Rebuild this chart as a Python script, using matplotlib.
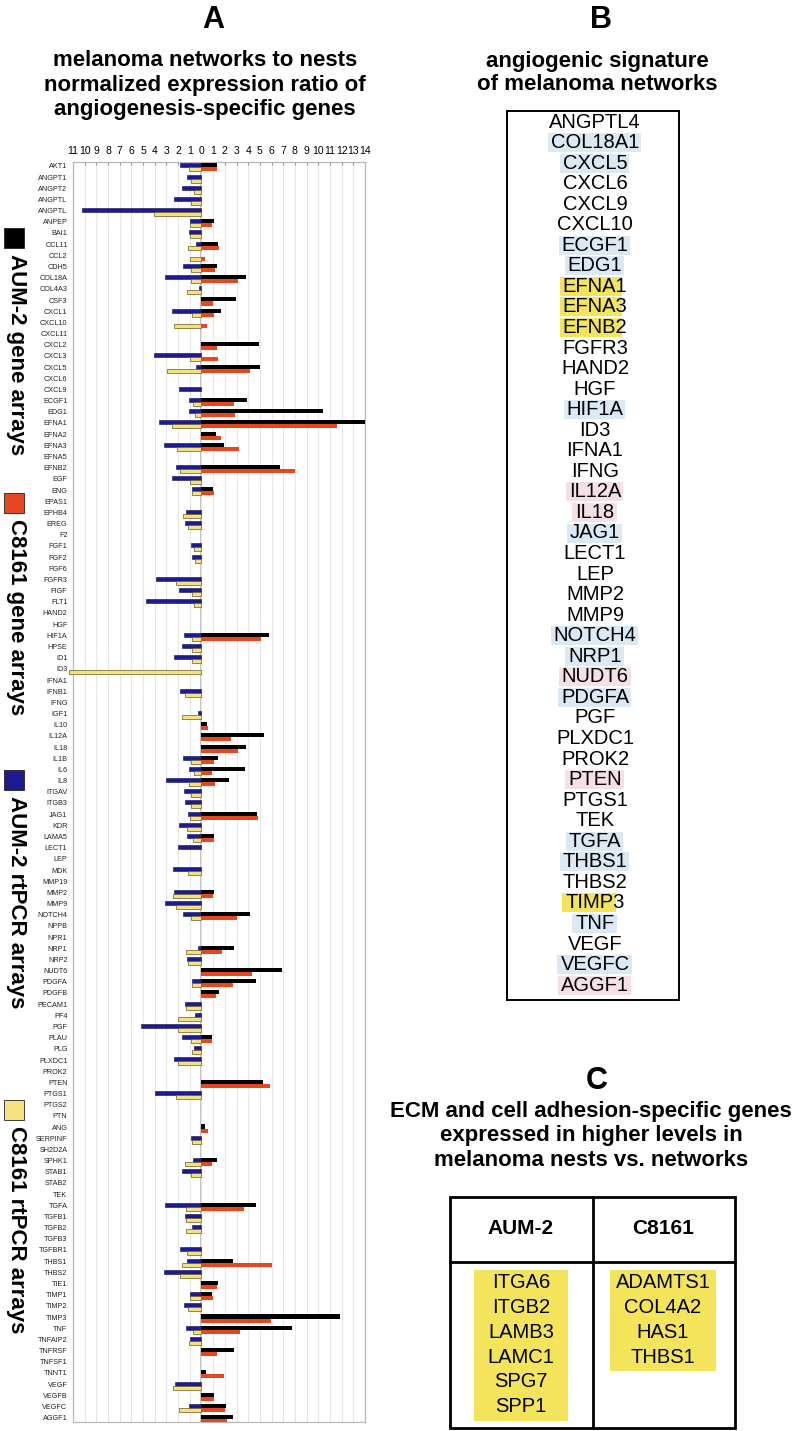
import matplotlib
matplotlib.use("Agg")
import numpy as np
from matplotlib import pyplot as plt
from matplotlib.patches import Rectangle

plt.rcParams['font.family'] = ['Liberation Sans', 'DejaVu Sans']
NARROW = ['Liberation Sans Narrow', 'Liberation Sans', 'DejaVu Sans']

genes = ['AKT1', 'ANGPT1', 'ANGPT2', 'ANGPTL', 'ANGPTL', 'ANPEP', 'BAI1', 'CCL11', 'CCL2', 'CDH5',
         'COL18A', 'COL4A3', 'CSF3', 'CXCL1', 'CXCL10', 'CXCL11', 'CXCL2', 'CXCL3', 'CXCL5', 'CXCL6',
         'CXCL9', 'ECGF1', 'EDG1', 'EFNA1', 'EFNA2', 'EFNA3', 'EFNA5', 'EFNB2', 'EGF', 'ENG',
         'EPAS1', 'EPHB4', 'EREG', 'F2', 'FGF1', 'FGF2', 'FGF6', 'FGFR3', 'FIGF', 'FLT1',
         'HAND2', 'HGF', 'HIF1A', 'HPSE', 'ID1', 'ID3', 'IFNA1', 'IFNB1', 'IFNG', 'IGF1',
         'IL10', 'IL12A', 'IL18', 'IL1B', 'IL6', 'IL8', 'ITGAV', 'ITGB3', 'JAG1', 'KDR',
         'LAMA5', 'LECT1', 'LEP', 'MDK', 'MMP19', 'MMP2', 'MMP9', 'NOTCH4', 'NPPB', 'NPR1',
         'NRP1', 'NRP2', 'NUDT6', 'PDGFA', 'PDGFB', 'PECAM1', 'PF4', 'PGF', 'PLAU', 'PLG',
         'PLXDC1', 'PROK2', 'PTEN', 'PTGS1', 'PTGS2', 'PTN', 'ANG', 'SERPINF', 'SH2D2A', 'SPHK1',
         'STAB1', 'STAB2', 'TEK', 'TGFA', 'TGFB1', 'TGFB2', 'TGFB3', 'TGFBR1', 'THBS1', 'THBS2',
         'TIE1', 'TIMP1', 'TIMP2', 'TIMP3', 'TNF', 'TNFAIP2', 'TNFRSF', 'TNFSF1', 'TNNT1', 'VEGF',
         'VEGFB', 'VEGFC', 'AGGF1']

# AUM-2 gene arrays (black)
aum2_gene = [1.37, 0, 0, 0, 0, 1.06, 0, 1.43, 0, 1.31,
             3.8, 0, 2.97, 1.69, 0, 0, 4.94, 0, 5.0, 0,
             0, 3.89, 10.4, 14.0, 1.23, 1.94, 0, 6.71, 0, 0.97,
             0, 0, 0, 0, 0, 0, 0, 0, 0, 0,
             0, 0, 5.77, 0, 0, 0, 0, 0, 0, 0,
             0.51, 5.34, 3.83, 1.43, 3.71, 2.34, 0, 0, 4.74, 0,
             1.06, 0, 0, 0, 0, 1.06, 0, 4.14, 0, 0,
             2.77, 0, 6.86, 4.71, 1.51, 0, 0, 0, 0.94, 0,
             0, 0, 5.26, 0, 0, 0, 0.34, 0, 0, 1.34,
             0, 0, 0, 4.66, 0, 0, 0, 0, 2.66, 0,
             1.4, 0.94, 0, 11.86, 7.77, 0, 2.77, 0, 0.37, 0,
             1.06, 2.06, 2.69]

# C8161 gene arrays (red)
c8161_gene = [1.29, 0, 0, 0, 0, 0.94, 0, 1.51, 0.26, 1.14,
              3.14, 0, 0.97, 1.06, 0.46, 0, 1.34, 1.4, 4.14, 0,
              0, 2.8, 2.91, 11.63, 1.71, 3.17, 0, 8.03, 0, 1.06,
              0, 0, 0, 0, 0, 0, 0, 0, 0, 0,
              0, 0, 5.11, 0, 0, 0, 0, 0, 0, 0,
              0.6, 2.51, 3.11, 1.09, 0.91, 1.14, 0, 0, 4.8, 0,
              1.11, 0, 0, 0, 0, 1.0, 0, 3.03, 0, 0,
              1.77, 0, 4.34, 2.71, 1.23, 0, 0, 0, 0.94, 0,
              0, 0, 5.86, 0, 0, 0, 0.54, 0, 0, 0.89,
              0, 0, 0, 3.63, 0, 0, 0, 0, 6.03, 0,
              1.37, 0.97, 0, 5.97, 3.31, 0, 1.37, 0, 1.97, 0,
              1.09, 2.0, 2.17]

# AUM-2 rtPCR arrays (blue)
aum2_rtpcr = [-1.8, -1.23, -1.66, -2.37, -10.2, -1.0, -1.09, -0.43, 0, -1.57,
              -3.11, -0.23, 0, -2.51, 0, 0, 0, -4.09, -0.46, 0,
              -1.89, -1.09, -1.09, -3.63, 0, -3.23, 0, -2.14, -2.51, -0.77,
              0, -1.29, -1.43, 0, -0.86, -0.8, 0, -3.91, -1.89, -4.77,
              0, 0, -1.51, -1.69, -2.37, 0, 0, -1.83, 0, -0.26,
              0, 0, 0, -1.57, -1.11, -3.06, -1.51, -1.37, -1.14, -1.94,
              -1.23, -2.0, 0, -2.46, 0, -2.34, -3.14, -1.6, 0, 0,
              -0.26, -1.23, 0, -0.77, 0, -1.37, -0.57, -5.14, -1.66, -0.66,
              -2.31, 0, 0, -4.0, 0, 0, 0, -0.86, 0, -0.69,
              -1.69, 0, 0, -3.11, -1.37, -0.77, 0, -1.83, -1.2, -3.23,
              0, -0.97, -1.51, 0, -1.34, -1.0, 0, 0, 0, -2.26,
              0, -1.11, 0]

# C8161 rtPCR arrays (yellow)
c8161_rtpcr = [-1.06, -0.91, -0.6, -0.86, -4.03, -1.0, -1.0, -1.17, -1.0, -0.86,
               -0.86, -1.23, 0, -0.83, -2.37, 0, 0, -1.0, -2.91, 0,
               0, -0.71, -0.57, -2.54, 0, -2.06, 0, -1.86, -1.0, -0.8,
               0, -1.54, -1.14, 0, -0.63, -0.57, 0, -2.2, -0.77, -0.6,
               0, 0, -0.83, -0.77, -0.83, -11.3, 0, -1.37, 0, -1.71,
               0, 0, 0, -0.89, -0.6, -1.09, -0.86, -0.86, -1.0, -1.23,
               -0.71, 0, 0, -1.17, 0, -2.43, -2.14, -0.91, 0, 0,
               -1.29, -1.14, 0, -0.83, 0, -1.29, -1.97, -2.03, -0.89, -0.77,
               -2.03, 0, 0, -2.14, 0, 0, 0, -0.77, 0, -1.4,
               -0.89, 0, 0, -1.29, -1.34, -1.29, 0, -1.26, -1.63, -1.8,
               0, -1.0, -1.17, 0, -0.71, -1.11, 0, 0, 0, -2.46,
               0, -1.89, 0]

series_names = ['AUM-2 gene arrays', 'C8161 gene arrays', 'AUM-2 rtPCR arrays', 'C8161 rtPCR arrays']
x_ticks = list(range(-11, 15))

signature_genes = ['ANGPTL4', 'COL18A1', 'CXCL5', 'CXCL6', 'CXCL9', 'CXCL10', 'ECGF1', 'EDG1',
                   'EFNA1', 'EFNA3', 'EFNB2', 'FGFR3', 'HAND2', 'HGF', 'HIF1A', 'ID3', 'IFNA1',
                   'IFNG', 'IL12A', 'IL18', 'JAG1', 'LECT1', 'LEP', 'MMP2', 'MMP9', 'NOTCH4',
                   'NRP1', 'NUDT6', 'PDGFA', 'PGF', 'PLXDC1', 'PROK2', 'PTEN', 'PTGS1', 'TEK',
                   'TGFA', 'THBS1', 'THBS2', 'TIMP3', 'TNF', 'VEGF', 'VEGFC', 'AGGF1']
sig_blue = ['COL18A1', 'CXCL5', 'ECGF1', 'EDG1', 'HIF1A', 'JAG1', 'NOTCH4', 'NRP1', 'PDGFA',
            'TGFA', 'THBS1', 'TNF', 'VEGFC']
sig_pink = ['IL12A', 'IL18', 'NUDT6', 'PTEN', 'AGGF1']
sig_yellow = ['EFNA1', 'EFNA3', 'EFNB2', 'TIMP3']

ecm_aum2 = ['ITGA6', 'ITGB2', 'LAMB3', 'LAMC1', 'SPG7', 'SPP1']
ecm_c8161 = ['ADAMTS1', 'COL4A2', 'HAS1', 'THBS1']

BLACK = '#000000'
RED = '#e8461e'
BLUE = '#1c1c90'
YELLOW = '#f3e27d'
HL_BLUE = '#dbe9f4'
HL_PINK = '#f6e0e8'
HL_YELLOW = '#f4e45c'
ORANGE = '#e0603a'

fig = plt.figure(figsize=(7.98, 14.31), dpi=100)
ov = fig.add_axes([0, 0, 1, 1], zorder=0)
ov.set_xlim(0, 798)
ov.set_ylim(1431, 0)
ov.axis('off')

# ---- panel A chart
ax = fig.add_axes([73 / 798, 1 - 1422 / 1431, 292 / 798, 1260 / 1431], zorder=2)
y = np.arange(len(genes))
top, bot, h = y + 0.03, y + 0.39, 0.36

def bars(pos, vals, **kw):
    vals = np.array(vals)
    m = vals != 0
    return ax.barh(pos[m], vals[m], height=h, zorder=3, **kw)

bars(top, aum2_gene, color=BLACK, lw=0)
bars(top, aum2_rtpcr, color=BLUE, edgecolor='#0c0c55', lw=0.4)
bars(bot, c8161_gene, color=RED, lw=0)
yb = bars(bot, c8161_rtpcr, color=YELLOW, edgecolor='#6a5a20', lw=0.5)
for p in yb:
    p.set_clip_on(False)

ax.set_xlim(-11, 14)
ax.set_ylim(len(genes) - 0.53, -0.27)
ax.set_xticks(x_ticks)
ax.set_xticklabels([str(abs(v)) for v in x_ticks], family=NARROW, fontsize=7.5)
for lab, v in zip(ax.get_xticklabels(), x_ticks):
    lab.set_color(ORANGE if v < 0 else 'black')
ax.xaxis.tick_top()
ax.tick_params(axis='x', direction='in', length=2.5, color='#9a9a9a', pad=4)
ax.set_yticks(y + 0.08)
ax.set_yticklabels(genes, family=NARROW, fontsize=5.2, color='#222222')
ax.tick_params(axis='y', length=0, pad=4)
ax.grid(axis='x', color='#e6e6e6', lw=0.8, zorder=0)
ax.axvline(0, color='#b5b5b5', lw=1.2, zorder=1)
for s in ax.spines.values():
    s.set_color('#b8b8b8')
    s.set_linewidth(0.9)

# ---- legend on the left (rotated)
leg_colors = [BLACK, RED, BLUE, YELLOW]
leg_sq_top = [228, 493, 770, 1100]
for name, col, t in zip(series_names, leg_colors, leg_sq_top):
    ov.add_patch(Rectangle((4, t), 20, 20, fc=col, ec='#222222', lw=0.6))
    ov.text(16, t + 26, name, rotation=-90, ha='center', va='top',
            fontsize=16, fontweight='bold')

# ---- titles
ov.text(213, 20, 'A', ha='center', va='center', fontsize=22, fontweight='bold')
for yy, line in zip([61, 85, 109], ['melanoma networks to nests',
                                    'normalized expression ratio of',
                                    'angiogenesis-specific genes']):
    ov.text(205, yy, line, ha='center', va='center', fontsize=16, fontweight='bold')

ov.text(601, 20, 'B', ha='center', va='center', fontsize=22, fontweight='bold')
for yy, line in zip([61, 85], ['angiogenic signature', 'of melanoma networks']):
    ov.text(597, yy, line, ha='center', va='center', fontsize=16, fontweight='bold')

ov.text(597, 1081, 'C', ha='center', va='center', fontsize=22, fontweight='bold')
for yy, line in zip([1112, 1136, 1160], ['ECM and cell adhesion-specific genes',
                                         'expressed in higher levels in',
                                         'melanoma nests vs. networks']):
    ov.text(591, yy, line, ha='center', va='center', fontsize=16, fontweight='bold')

# ---- panel B list
ov.add_patch(Rectangle((507, 111), 172, 889, fc='none', ec='black', lw=1.4))
sig_texts = []
for k, g in enumerate(signature_genes):
    t = ov.text(595, 122 + k * 20.55, g, ha='center', va='center', fontsize=14.5, zorder=3)
    sig_texts.append((g, t))

# ---- panel C table
ov.add_patch(Rectangle((450, 1197), 285, 231, fc='none', ec='black', lw=2))
ov.plot([593, 593], [1197, 1428], color='black', lw=2)
ov.plot([450, 735], [1262, 1262], color='black', lw=2)
ov.text(521, 1228, 'AUM-2', ha='center', va='center', fontsize=15, fontweight='bold')
ov.text(663, 1228, 'C8161', ha='center', va='center', fontsize=15, fontweight='bold')
for cx, x0, w, items in [(521, 474, 94, ecm_aum2), (663, 610, 106, ecm_c8161)]:
    ov.add_patch(Rectangle((x0, 1270), w, 25 * len(items) + 1, fc=HL_YELLOW, ec='none'))
    for k, g in enumerate(items):
        ov.text(cx, 1283 + k * 24.7, g, ha='center', va='center', fontsize=14.5)

# highlight boxes behind signature genes
fig.canvas.draw()
r = fig.canvas.get_renderer()
inv = ov.transData.inverted()
for g, t in sig_texts:
    if g in sig_blue:
        col, frac = HL_BLUE, 1.0
    elif g in sig_pink:
        col, frac = HL_PINK, 1.0
    elif g in sig_yellow:
        col, frac = HL_YELLOW, 0.82 if g == 'TIMP3' else 0.88
    else:
        continue
    bb = t.get_window_extent(r)
    (x0, _), (x1, _) = inv.transform([[bb.x0, bb.y0], [bb.x1, bb.y1]])
    yc = t.get_position()[1]
    ov.add_patch(Rectangle((x0 - 3, yc - 9.5), (x1 - x0) * frac + 5, 19, fc=col, ec='none', zorder=1))

fig.savefig('out.png', dpi=100)
